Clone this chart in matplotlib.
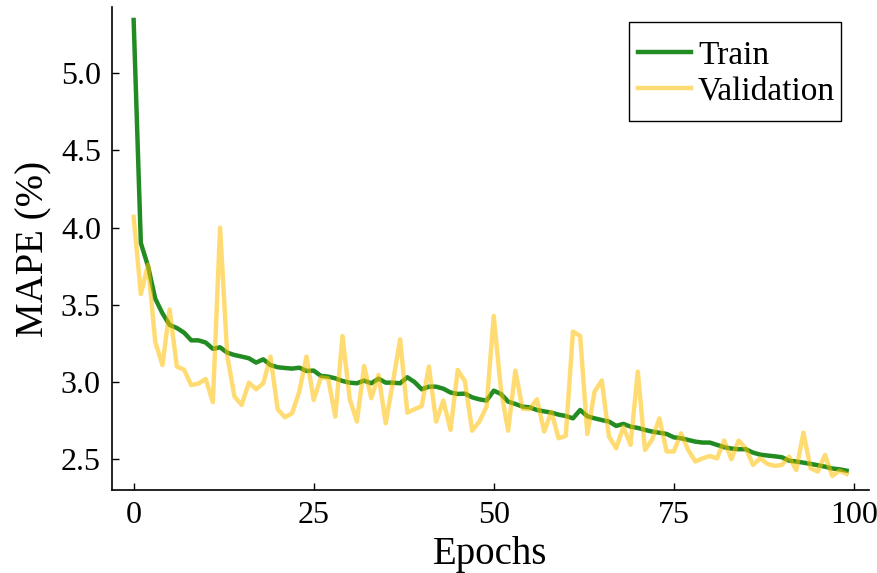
import numpy as np
import matplotlib
matplotlib.use("Agg")
import matplotlib.pyplot as plt
from matplotlib.patches import Rectangle

# MAPE per epoch
epochs = np.arange(100)

train_mape = [
    5.345, 3.90, 3.75, 3.54, 3.445, 3.37, 3.35, 3.32, 3.27, 3.27,
    3.256, 3.215, 3.225, 3.19, 3.175, 3.165, 3.154, 3.126, 3.147, 3.11,
    3.096, 3.091, 3.087, 3.093, 3.072, 3.074, 3.04, 3.035, 3.024, 3.007,
    2.996, 2.992, 3.009, 2.992, 3.022, 2.996, 2.996, 2.992, 3.031, 3.0,
    2.953, 2.97, 2.97, 2.957, 2.932, 2.923, 2.925, 2.901, 2.888, 2.88,
    2.944, 2.923, 2.873, 2.858, 2.841, 2.836, 2.819, 2.81, 2.802, 2.789,
    2.78, 2.765, 2.819, 2.778, 2.765, 2.754, 2.744, 2.716, 2.729, 2.711,
    2.703, 2.69, 2.679, 2.672, 2.664, 2.642, 2.636, 2.625, 2.614, 2.608,
    2.608, 2.593, 2.578, 2.569, 2.565, 2.565, 2.543, 2.53, 2.524, 2.519,
    2.513, 2.491, 2.485, 2.478, 2.47, 2.461, 2.452, 2.44, 2.435, 2.426,
]

val_mape = [
    4.07, 3.57, 3.76, 3.26, 3.11, 3.47, 3.10, 3.08, 2.98, 2.99,
    3.02, 2.87, 4.00, 3.17, 2.906, 2.852, 2.996, 2.953, 2.992, 3.165,
    2.824, 2.772, 2.798, 2.938, 3.165, 2.884, 3.03, 3.024, 2.776, 3.298,
    2.89, 2.744, 3.104, 2.895, 3.046, 2.733, 3.0, 3.277, 2.802, 2.824,
    2.845, 3.10, 2.744, 2.88, 2.69, 3.078, 3.005, 2.685, 2.744, 2.84,
    3.428, 2.949, 2.685, 3.074, 2.828, 2.824, 2.888, 2.679, 2.808, 2.636,
    2.651, 3.327, 3.298, 2.664, 2.938, 3.01, 2.646, 2.571, 2.71, 2.593,
    3.068, 2.56, 2.629, 2.765, 2.55, 2.55, 2.668, 2.56, 2.485, 2.506,
    2.521, 2.506, 2.621, 2.50, 2.621, 2.571, 2.463, 2.506, 2.47, 2.457,
    2.463, 2.517, 2.43, 2.672, 2.441, 2.42, 2.528, 2.392, 2.426, 2.405,
]

x_ticks = [0, 25, 50, 75, 100]
y_ticks = [2.5, 3.0, 3.5, 4.0, 4.5, 5.0]

plt.rcParams['font.family'] = ['Liberation Serif', 'DejaVu Serif']

fig = plt.figure(figsize=(8.78, 5.73), dpi=100)
ax = fig.add_axes([0.1276, 0.1449, 0.8621, 0.8429])

ax.plot(epochs, train_mape, color='#228B22', lw=3.2, label='Train')
ax.plot(epochs, val_mape, color='#FFC000', alpha=0.55, lw=3.2, label='Validation')

ax.set_xlim(-3.0, 102.1)
ax.set_ylim(2.301, 5.429)
ax.set_xticks(x_ticks)
ax.set_yticks(y_ticks)
ax.set_yticklabels([f"{v:.1f}" for v in y_ticks])

for side in ['top', 'right']:
    ax.spines[side].set_visible(False)
for side in ['left', 'bottom']:
    ax.spines[side].set_linewidth(1.2)

ax.tick_params(direction='in', length=5, width=1.0, labelsize=23, pad=8)
ax.set_xlabel('Epochs', fontsize=28, labelpad=4)
ax.set_ylabel('MAPE (%)', fontsize=28, labelpad=6)

# legend box has more room above/below than at the sides, so draw the frame separately
ax.add_patch(Rectangle((0.683, 0.764), 0.280, 0.205, transform=ax.transAxes,
                       facecolor='white', edgecolor='black', lw=1.0, zorder=4))
leg = ax.legend(loc='center', bbox_to_anchor=(0.825, 0.862), fontsize=24,
                frameon=False, handlelength=1.6, handletextpad=0.2,
                borderpad=0.0, labelspacing=0.15)
leg.set_zorder(5)

fig.savefig('out.png', dpi=100)
